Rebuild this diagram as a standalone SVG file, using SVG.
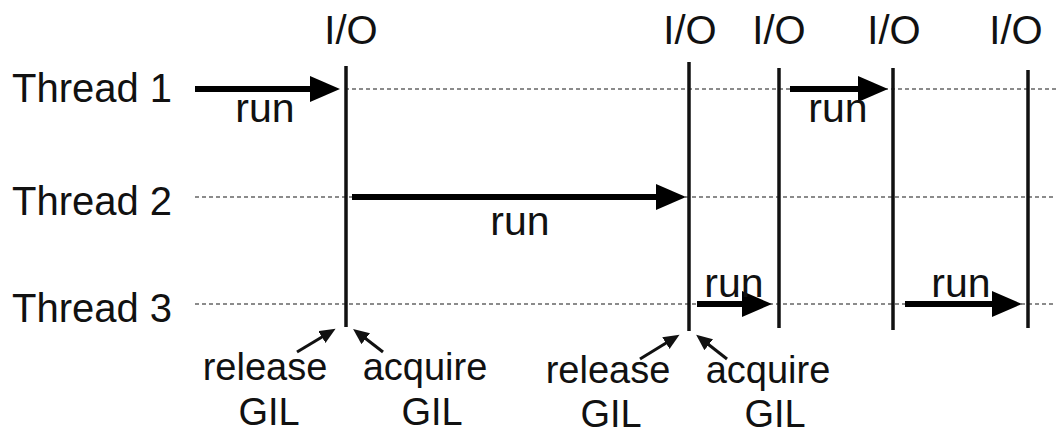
<svg xmlns="http://www.w3.org/2000/svg" width="1056" height="442" viewBox="0 0 1056 442">
<style>
text{font-family:"Liberation Sans","Open Sans",Arial,sans-serif;fill:#111;}
.lane{font-size:40px;}
.io{font-size:40px;text-anchor:middle;}
.lbl{font-size:38px;text-anchor:middle;}
.runl{font-size:41px;text-anchor:middle;}
.dash{stroke:#666;stroke-width:1.3;stroke-dasharray:4 3;fill:none;}
.tick{stroke:#111;stroke-width:3.5;fill:none;}
.run{stroke:#000;stroke-width:6;fill:none;marker-end:url(#big);}
.gil{stroke:#111;stroke-width:3;fill:none;marker-end:url(#small);}
</style>
<defs>
<marker id="big" markerUnits="userSpaceOnUse" markerWidth="32" markerHeight="26" refX="10" refY="13" orient="auto"><path d="M0,0 L30,13 L0,26 z" fill="#000"/></marker>
<marker id="small" markerUnits="userSpaceOnUse" markerWidth="18" markerHeight="16" refX="6" refY="7" orient="auto"><path d="M0,0 L16,7 L0,14 z" fill="#111"/></marker>
</defs>
<rect width="1056" height="442" fill="#fff"/>
<g id="thread1"><text class="lane" x="12" y="102">Thread 1</text><line class="dash" x1="345" y1="89" x2="1056" y2="89"/></g>
<g id="thread2"><text class="lane" x="12" y="215">Thread 2</text><line class="dash" x1="195" y1="197" x2="1056" y2="197"/></g>
<g id="thread3"><text class="lane" x="12" y="322">Thread 3</text><line class="dash" x1="195" y1="304" x2="1056" y2="304"/></g>
<g id="io1"><text class="io" x="351" y="44">I/O</text><line class="tick" x1="346" y1="66" x2="346" y2="327"/></g>
<g id="io2"><text class="io" x="690" y="44">I/O</text><line class="tick" x1="689" y1="62" x2="689" y2="331"/></g>
<g id="io3"><text class="io" x="779" y="44">I/O</text><line class="tick" x1="779" y1="68" x2="779" y2="328"/></g>
<g id="io4"><text class="io" x="894" y="44">I/O</text><line class="tick" x1="893" y1="68" x2="893" y2="330"/></g>
<g id="io5"><text class="io" x="1016" y="44">I/O</text><line class="tick" x1="1028" y1="70" x2="1028" y2="328"/></g>
<g id="connectors">
<line class="run" x1="195" y1="89" x2="320" y2="89"/>
<line class="run" x1="790" y1="89" x2="868" y2="89"/>
<line class="run" x1="352" y1="197" x2="666" y2="197"/>
<line class="run" x1="697" y1="304" x2="752" y2="304"/>
<line class="run" x1="905" y1="304" x2="1002" y2="304"/>
<line class="gil" x1="297" y1="352" x2="327" y2="334"/>
<line class="gil" x1="383" y1="352" x2="361" y2="335"/>
<line class="gil" x1="640" y1="359" x2="671" y2="340"/>
<line class="gil" x1="727" y1="359" x2="704" y2="341"/>
</g>
<g id="run-labels">
<text class="runl" x="265" y="122">run</text>
<text class="runl" x="838" y="122">run</text>
<text class="runl" x="520" y="235">run</text>
<text class="runl" x="734" y="297">run</text>
<text class="runl" x="961" y="297">run</text>
</g>
<g id="gil1"><text class="lbl" x="265" y="380">release</text><text class="lbl" x="269" y="425">GIL</text></g>
<g id="gil2"><text class="lbl" x="425" y="380">acquire</text><text class="lbl" x="432" y="425">GIL</text></g>
<g id="gil3"><text class="lbl" x="608" y="383">release</text><text class="lbl" x="611" y="427">GIL</text></g>
<g id="gil4"><text class="lbl" x="768" y="383">acquire</text><text class="lbl" x="775" y="427">GIL</text></g>
</svg>
